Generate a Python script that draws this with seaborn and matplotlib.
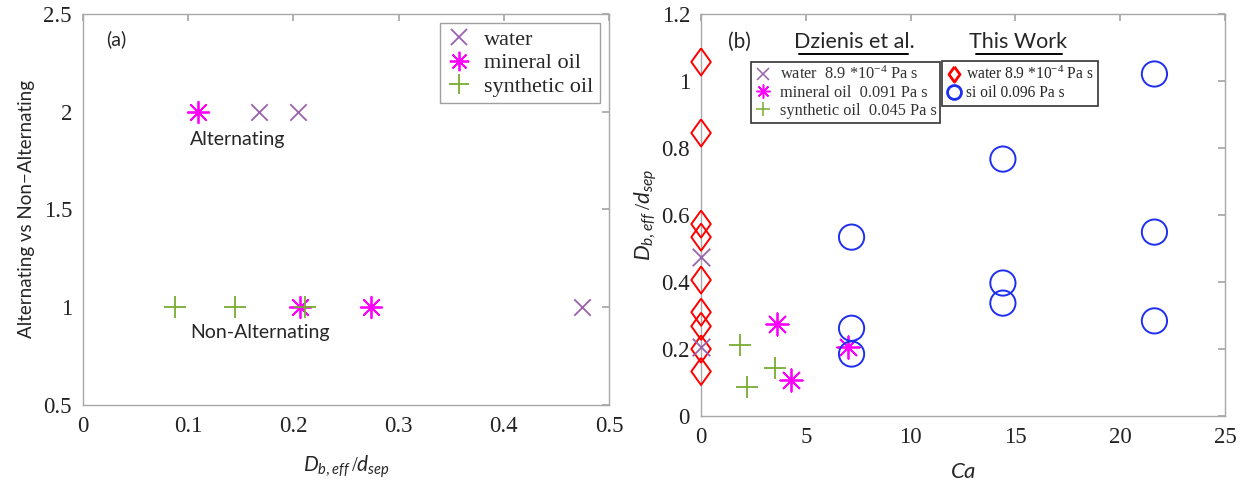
import numpy as np
import pandas as pd
import matplotlib
matplotlib.use("Agg")
import matplotlib.pyplot as plt
import seaborn as sns
from matplotlib.lines import Line2D

sns.set_theme(style="white")
plt.rcParams['font.family'] = ['DejaVu Sans']
plt.rcParams['mathtext.fontset'] = 'custom'
plt.rcParams['mathtext.rm'] = 'Liberation Serif'
plt.rcParams['mathtext.it'] = 'Lato:italic'
plt.rcParams['mathtext.bf'] = 'Lato:bold'

# ---------------- data: panel (a) ----------------
a_water_x = [0.167, 0.204, 0.474]
a_water_y = [2, 2, 1]
a_mineral_x = [0.109, 0.206, 0.274]
a_mineral_y = [2, 1, 1]
a_synth_x = [0.087, 0.144, 0.211]
a_synth_y = [1, 1, 1]
a_xticks = [0, 0.1, 0.2, 0.3, 0.4, 0.5]
a_yticks = [0.5, 1, 1.5, 2, 2.5]
a_legend = ["water", "mineral oil", "synthetic oil"]

# ---------------- data: panel (b) ----------------
b_water_dz_x = [0.0, 0.0]
b_water_dz_y = [0.475, 0.205]
b_mineral_x = [3.64, 4.31, 7.01]
b_mineral_y = [0.275, 0.107, 0.206]
b_synth_x = [1.84, 2.17, 3.51]
b_synth_y = [0.212, 0.086, 0.143]
b_water_tw_x = [0, 0, 0, 0, 0, 0, 0, 0, 0]
b_water_tw_y = [1.057, 0.845, 0.573, 0.534, 0.406, 0.31, 0.268, 0.2, 0.133]
b_si_x = [7.18, 7.18, 7.18, 14.40, 14.40, 14.40, 21.63, 21.63, 21.63]
b_si_y = [0.534, 0.262, 0.185, 0.767, 0.397, 0.337, 1.021, 0.549, 0.284]
b_xticks = [0, 5, 10, 15, 20, 25]
b_yticks = [0, 0.2, 0.4, 0.6, 0.8, 1, 1.2]
b_ytick_labels = ["0", "0.2", "0.4", "0.6", "0.8", "1", "1.2"]
b_legend_dz = ["water  8.9 *10$^{-4}$ Pa s", "mineral oil  0.091 Pa s", "synthetic oil  0.045 Pa s"]
b_legend_tw = ["water 8.9 *10$^{-4}$ Pa s", "si oil 0.096 Pa s"]

C_WATER = "#9a62ad"
C_MIN = "#ff00ff"
C_SYN = "#77ac30"
C_RED = "#ff0000"
C_BLUE = "#1f2ff0"
SPINE = "#a8a8a8"
ASTER = (8, 2, 0)
DIAM = [(0, 1), (0.72, 0), (0, -1), (-0.72, 0), (0, 1)]
SERIF = "Liberation Serif"
SANS = "Lato"

fig = plt.figure(figsize=(12.45, 4.82), dpi=100)
axa = fig.add_axes([0.0667, 0.1598, 0.4225, 0.8112])
axb = fig.add_axes([0.5631, 0.1369, 0.4209, 0.8340])


def style_axes(ax):
    for s in ax.spines.values():
        s.set_color(SPINE)
        s.set_linewidth(1.0)
    ax.tick_params(direction="in", length=5, color=SPINE, top=True, right=True,
                   labelsize=16.5, pad=8, labelcolor="#222222")
    for lbl in ax.get_xticklabels() + ax.get_yticklabels():
        lbl.set_fontfamily(SERIF)


# ---------------- panel (a) ----------------
sns.scatterplot(x=a_water_x, y=a_water_y, ax=axa, marker="x", s=140, color=C_WATER,
                linewidth=1.3, zorder=3, clip_on=False)
sns.scatterplot(x=a_mineral_x, y=a_mineral_y, ax=axa, marker=ASTER, s=240, color=C_MIN,
                linewidth=1.3, zorder=3, clip_on=False)
sns.scatterplot(x=a_synth_x, y=a_synth_y, ax=axa, marker="+", s=240, color=C_SYN,
                linewidth=1.3, zorder=3, clip_on=False)
axa.set_xlim(0, 0.5)
axa.set_ylim(0.5, 2.5)
axa.set_xticks(a_xticks)
axa.set_xticklabels(["0", "0.1", "0.2", "0.3", "0.4", "0.5"])
axa.set_yticks(a_yticks)
axa.set_yticklabels(["0.5", "1", "1.5", "2", "2.5"])
style_axes(axa)
axa.set_xlabel(r"$D_{b,eff}\,/d_{sep}$", fontsize=15, labelpad=12)
axa.set_ylabel("Alternating vs Non\u2212Alternating", fontsize=13.5, labelpad=6, family=SANS)
axa.text(0.1016, 1.86, "Alternating", fontsize=14, ha="left", va="center", family=SANS)
axa.text(0.1016, 0.87, "Non-Alternating", fontsize=14, ha="left", va="center", family=SANS)
axa.text(0.044, 0.935, "(a)", transform=axa.transAxes, fontsize=14, ha="left", va="center",
         family=SANS)

h_a = [Line2D([], [], ls="none", marker="x", ms=11, mew=1.3, color=C_WATER),
       Line2D([], [], ls="none", marker=ASTER, ms=14, mew=1.3, color=C_MIN),
       Line2D([], [], ls="none", marker="+", ms=14, mew=1.3, color=C_SYN)]
leg_a = axa.legend(h_a, a_legend, loc="upper right", bbox_to_anchor=(0.983, 0.977),
                   prop={"family": SERIF, "size": 16}, frameon=True, fancybox=False,
                   edgecolor="#888888", handlelength=1.1, handletextpad=0.6,
                   labelspacing=0.12, borderpad=0.3, borderaxespad=0.0)
leg_a.get_frame().set_linewidth(1.0)

# ---------------- panel (b) ----------------
sns.scatterplot(x=b_water_tw_x, y=b_water_tw_y, ax=axb, marker=DIAM, s=380,
                facecolor="none", edgecolor=C_RED, linewidth=1.4, zorder=3, clip_on=False)
sns.scatterplot(x=b_water_dz_x, y=b_water_dz_y, ax=axb, marker="x", s=160, color=C_WATER,
                linewidth=1.3, zorder=4, clip_on=False)
sns.scatterplot(x=b_mineral_x, y=b_mineral_y, ax=axb, marker=ASTER, s=260, color=C_MIN,
                linewidth=1.3, zorder=3, clip_on=False)
sns.scatterplot(x=b_synth_x, y=b_synth_y, ax=axb, marker="+", s=260, color=C_SYN,
                linewidth=1.3, zorder=3, clip_on=False)
sns.scatterplot(x=b_si_x, y=b_si_y, ax=axb, marker="o", s=330, facecolor="none",
                edgecolor=C_BLUE, linewidth=1.4, zorder=3, clip_on=False)
axb.set_xlim(0, 25)
axb.set_ylim(0, 1.2)
axb.set_xticks(b_xticks)
axb.set_xticklabels([str(v) for v in b_xticks])
axb.set_yticks(b_yticks)
axb.set_yticklabels(b_ytick_labels)
style_axes(axb)
axb.set_xlabel(r"$Ca$", fontsize=16, labelpad=10)
axb.set_ylabel(r"$D_{b,eff}\,/d_{sep}$", fontsize=16, labelpad=2)
axb.text(0.052, 0.932, "(b)", transform=axb.transAxes, fontsize=15, ha="left", va="center",
         family=SANS)
axb.text(0.292, 0.93, "Dzienis et al.", transform=axb.transAxes, fontsize=15.5,
         ha="center", va="center", family=SANS)
axb.text(0.605, 0.93, "This Work", transform=axb.transAxes, fontsize=15.5,
         ha="center", va="center", family=SANS)
# underline the two headings
axb.plot([0.187, 0.395], [0.901, 0.901], transform=axb.transAxes, color="black", lw=1.4,
         clip_on=False)
axb.plot([0.525, 0.689], [0.901, 0.901], transform=axb.transAxes, color="black", lw=1.4,
         clip_on=False)

h_dz = [Line2D([], [], ls="none", marker="x", ms=8, mew=1.1, color=C_WATER),
        Line2D([], [], ls="none", marker=ASTER, ms=10, mew=1.1, color=C_MIN),
        Line2D([], [], ls="none", marker="+", ms=10, mew=1.1, color=C_SYN)]
leg_dz = axb.legend(h_dz, b_legend_dz, loc="upper left", bbox_to_anchor=(0.095, 0.881),
                    prop={"family": SERIF, "size": 11.8}, frameon=True, fancybox=False,
                    edgecolor="black", handlelength=1.0, handletextpad=0.5,
                    labelspacing=0.1, borderpad=0.25, borderaxespad=0.0)
leg_dz.get_frame().set_linewidth(1.2)
for t in leg_dz.get_texts():
    t.set_color("#333333")
axb.add_artist(leg_dz)

h_tw = [Line2D([], [], ls="none", marker=DIAM, ms=11, mew=2.0, mfc="none", color=C_RED),
        Line2D([], [], ls="none", marker="o", ms=10, mew=2.0, mfc="none", color=C_BLUE)]
leg_tw = axb.legend(h_tw, b_legend_tw, loc="upper left", bbox_to_anchor=(0.46, 0.883),
                    prop={"family": SERIF, "size": 11.2}, frameon=True, fancybox=False,
                    edgecolor="black", handlelength=0.9, handletextpad=0.35,
                    labelspacing=0.15, borderpad=0.3, borderaxespad=0.0)
leg_tw.get_frame().set_linewidth(1.2)

fig.savefig("out.png", dpi=100)
